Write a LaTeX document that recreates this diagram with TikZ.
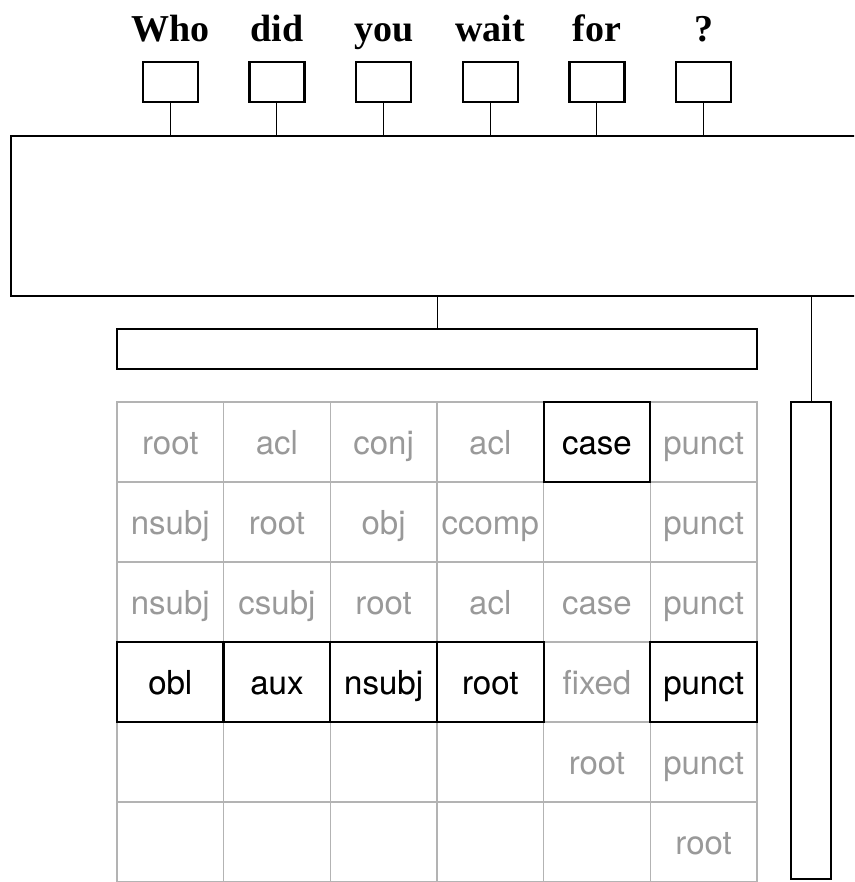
\documentclass[tikz,border=0pt]{standalone}
\usepackage{fontspec}
\setmainfont{Liberation Serif}
\setsansfont{TeX Gyre Heros}
\definecolor{gridgray}{HTML}{B3B3B3}
\definecolor{textgray}{HTML}{999999}
\begin{document}
\begin{tikzpicture}[x=1pt,y=-1pt,
  word/.style={font=\fontsize{38}{40}\selectfont\bfseries, anchor=base, inner sep=0pt},
  tokbox/.style={draw, line width=2.3pt, minimum width=55pt, minimum height=40pt, inner sep=0pt},
  bigbox/.style={draw, line width=2.3pt, inner sep=0pt},
  conn/.style={line width=1pt},
  cell/.style={draw=gridgray, line width=1.2pt, minimum width=106.67pt, minimum height=80pt, inner sep=0pt,
    text height=26pt, text depth=1pt, font=\sffamily\fontsize{33}{38}\selectfont, text=textgray},
  selcell/.style={draw=black, line width=2.3pt, minimum width=106.67pt, minimum height=80pt, inner sep=0pt,
    text height=26pt, text depth=1pt, font=\sffamily\fontsize{33}{38}\selectfont, text=black}
]
\useasboundingbox (0,0) rectangle (854,882);
\clip (0,0) rectangle (854,882);

% words
\foreach \i/\w in {1/Who,2/did,3/you,4/wait,5/for,6/?}{
  \pgfmathsetmacro{\cx}{170.3+106.67*(\i-1)}
  \node[word] (w\i) at (\cx,42) {\w};
  \node[tokbox] (b\i) at (\cx,82) {};
}

% big box
\node[bigbox, minimum width=870pt, minimum height=160pt, anchor=north west] (big) at (10,135) {};
\foreach \i in {1,...,6}{
  \draw[conn] (b\i.south) -- (b\i.south |- big.north);
}

% wide box and tall box
\node[bigbox, minimum width=640pt, minimum height=40pt] (wide) at (437,349) {};
\node[bigbox, minimum width=40pt, minimum height=477pt] (tall) at (811,640.5) {};
\draw[conn] (wide.north) -- (wide.north |- big.south);
\draw[conn] (tall.north) -- (tall.north |- big.south);

% grid
\foreach \r/\a/\b/\c/\d/\e/\f in {
  1/root/acl/conj/acl/case/punct,
  2/nsubj/root/obj/ccomp//punct,
  3/nsubj/csubj/root/acl/case/punct,
  4/obl/aux/nsubj/root/fixed/punct,
  5/////root/punct,
  6//////root}{
  \pgfmathsetmacro{\cy}{442+80*(\r-1)}
  \foreach \col/\t in {1/\a,2/\b,3/\c,4/\d,5/\e,6/\f}{
    \pgfmathsetmacro{\cx}{170.3+106.67*(\col-1)}
    \node[cell] (c\r\col) at (\cx,\cy) {\t};
  }
}
% selected cells
\node[selcell] (s15) at (c15) {case};
\node[selcell] (s41) at (c41) {obl};
\node[selcell] (s42) at (c42) {aux};
\node[selcell] (s43) at (c43) {nsubj};
\node[selcell] (s44) at (c44) {root};
\node[selcell] (s46) at (c46) {punct};
\end{tikzpicture}
\end{document}
